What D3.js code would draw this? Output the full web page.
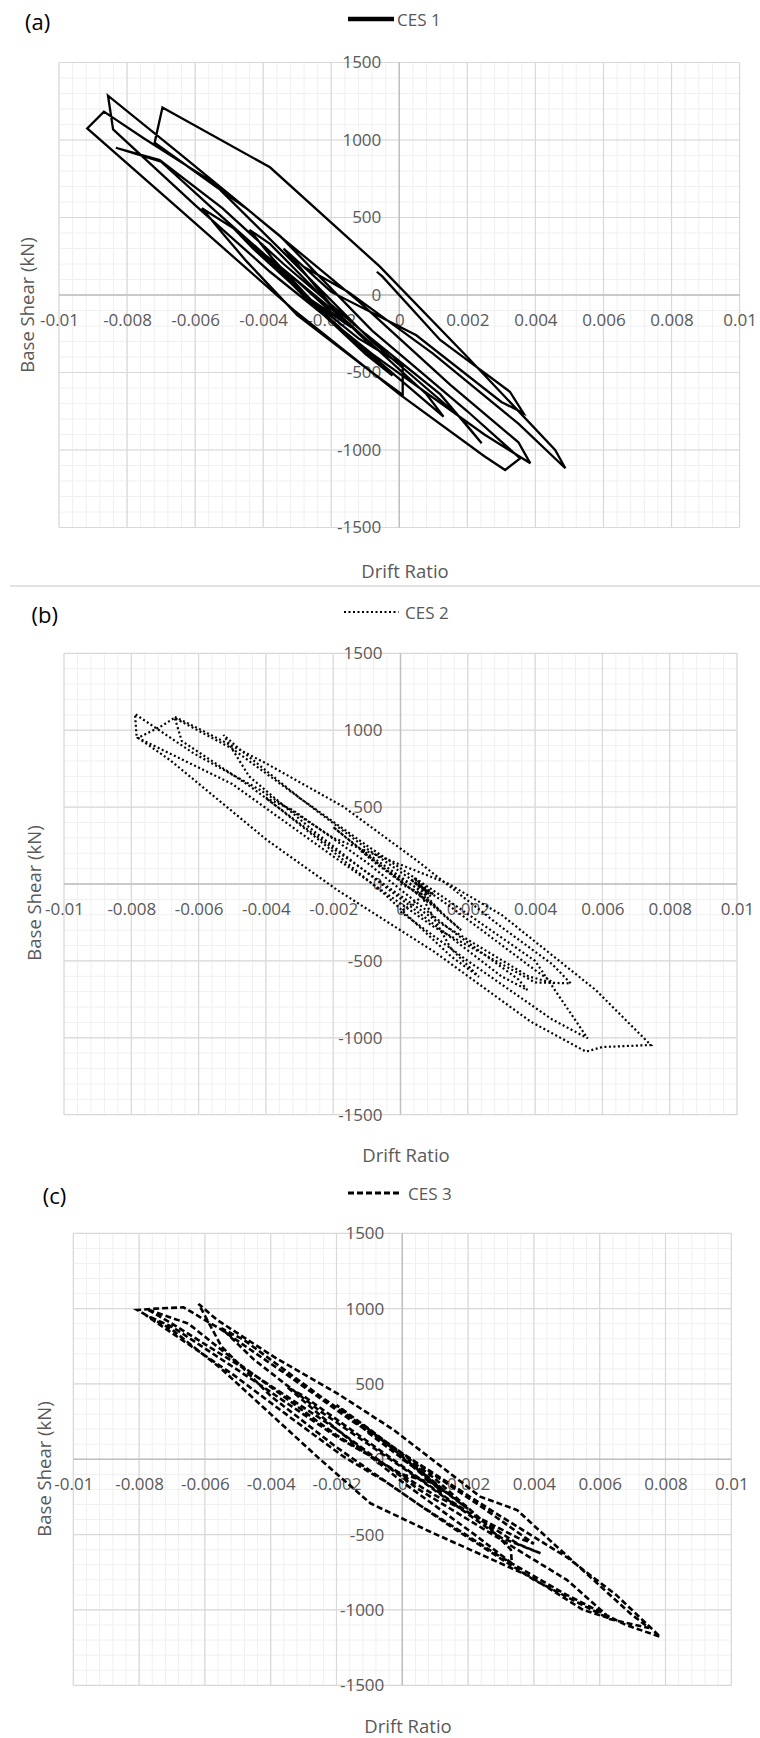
<!DOCTYPE html>
<html><head><meta charset="utf-8">
<script src="https://cdn.jsdelivr.net/npm/d3@7"></script>
<style>body{margin:0;background:#fff} svg{display:block}</style>
</head><body><svg id="chart" width="760" height="1738"></svg>
<script>
// ---------- data ----------
const xTicks = [-0.01,-0.008,-0.006,-0.004,-0.002,0,0.002,0.004,0.006,0.008,0.01];
const yTicks = [-1500,-1000,-500,0,500,1000,1500];
const seriesNames = ["CES 1","CES 2","CES 3"];
const panelLabels = ["(a)","(b)","(c)"];
const xTitle = "Drift Ratio";
const yTitle = "Base Shear (kN)";

const ces1Drift = [-0.00066,-0.0005,0.0012,0.002,0.00325,0.00365,0.003,0.0005,-0.002,-0.0034,-0.003,-0.0018,-0.0008,-0.0012,-0.0025,-0.0038,-0.0044,-0.0037,-0.0024,-0.0008,-0.0002,-0.001,-0.0027,-0.0042,-0.005,-0.0043,-0.003,-0.0012,0.0001,0.0001,-0.0008,-0.003,-0.0045,-0.0052,-0.0058,-0.0048,-0.0032,-0.0015,0.0013,0.0008,-0.0015,-0.0036,-0.0042,-0.003,-0.002,-0.0014,-0.0026,-0.0039,-0.0055,-0.007,-0.00833,-0.00704,-0.0052,-0.0034,-0.001,0.0012,0.00242,0.0018,-0.0008,-0.0032,-0.0055,-0.0075,-0.00868,-0.00917,-0.0065,-0.0031,0.0,0.0025,0.00311,0.00355,0.002,-0.0008,-0.0035,-0.0065,-0.00856,-0.00841,-0.006,-0.0038,-0.0008,0.0025,0.00385,0.0035,0.0015,-0.0012,-0.0045,-0.00719,-0.00696,-0.0038,-0.00057,0.002,0.00458,0.00488,0.0035,0.001,-0.0015,-0.0028];
const ces1Shear = [150,120,-290,-420,-624,-763,-690,-260,20,300,200,-120,-330,-250,40,330,420,230,-80,-400,-520,-380,-30,300,460,300,40,-280,-452,-645,-500,-130,220,400,560,420,80,-260,-785,-640,-180,200,300,90,-110,-210,-30,250,560,860,950,871,560,200,-250,-640,-957,-790,-300,230,730,1010,1183,1075,560,-97,-640,-1040,-1129,-1054,-750,-230,380,920,1286,1069,580,150,-380,-900,-1086,-950,-580,-40,560,983,1209,824,183,-400,-1000,-1118,-830,-380,20,180];

const ces2Drift = [0,0.0006,0.0012,0.0006,-0.0006,-0.0012,-0.0004,0.001,0.0018,0.001,-0.001,-0.002,-0.0012,0.0005,0.0015,0.00233,0.0015,-0.0005,-0.0025,-0.004,-0.0032,-0.001,0.0015,0.0035,0.00377,0.003,0.0005,-0.0025,-0.0045,-0.00526,-0.0048,-0.003,-0.001,0.0015,0.004,0.00456,0.0038,0.001,-0.002,-0.0045,-0.0065,-0.00672,-0.006,-0.004,-0.0017,0.0005,0.003,0.0045,0.00506,0.004,0.001,-0.002,-0.005,-0.00784,-0.00789,-0.00615,-0.00417,-0.002,0.0014,0.003,0.0058,0.00709,0.00744,0.006,0.00551,0.00387,0.001,-0.00188,-0.00397,-0.00685,-0.0078,-0.0071,-0.00672,-0.005,-0.003,-0.001,0.0015,0.004,0.00556,0.0045,0.002,0.0,0.0008,0.0003,0.0009,0.0004,0.0010,0.0005];
const ces2Shear = [0,-60,-180,-40,110,220,80,-140,-300,-150,190,370,230,-30,-420,-603,-470,-60,300,560,480,140,-300,-620,-689,-600,-180,330,700,969,880,560,230,-150,-560,-646,-600,-230,230,640,930,1088,1010,785,503,150,-280,-520,-646,-640,-280,180,650,954,1105,850,611,300,4,-200,-689,-971,-1047,-1060,-1090,-895,-440,-39,286,806,950,1027,1080,880,560,250,-120,-500,-1003,-880,-500,-180,-60,30,-80,40,-70,0];

const ces3Drift = [0,0.0008,0.0014,0.0006,-0.0006,-0.0012,-0.0004,0.0012,0.002,0.001,-0.001,-0.002,-0.001,0.001,0.0025,0.0033,0.00333,0.0022,0,-0.002,-0.0035,-0.003,-0.001,0.0015,0.0035,0.0042,0.003,0.0005,-0.0025,-0.0045,-0.0055,-0.0048,-0.0025,0,0.0025,0.004,0.0035,0.001,-0.002,-0.005,-0.0065,-0.00776,-0.007,-0.0045,-0.002,0.0005,0.0035,0.005,0.00632,0.0055,0.00389,0.00085,-0.00097,-0.0025,-0.004,-0.0055,-0.007,-0.00806,-0.0075,-0.00665,-0.0055,-0.0035,-0.0015,0.001,0.003,0.005,0.0065,0.00784,0.0068,0.005,0.003,0.0005,-0.002,-0.004,-0.0055,-0.00619,-0.00563,-0.00391,-0.00198,-0.00026,0.00237,0.00349,0.0047,0.00693,0.0075,0.0063,0.004,0.0015,-0.0005,-0.00178,-0.0033,-0.00513,-0.00781,-0.007,-0.0045,-0.002,0,0.0008,0.0003,0.0012,0.0005];
const ces3Shear = [0,-120,-230,-100,120,230,90,-200,-330,-160,170,360,200,-130,-420,-600,-690,-500,-150,200,480,420,110,-280,-560,-624,-520,-130,320,660,870,790,420,40,-330,-560,-520,-240,160,640,900,996,900,560,200,-200,-600,-800,-1056,-1000,-779,-481,-292,0,300,600,860,991,1000,1009,860,560,250,-100,-380,-650,-900,-1178,-1100,-900,-650,-300,80,420,750,1031,925,681,438,195,-248,-337,-580,-1023,-1120,-1060,-800,-450,-150,17,261,560,958,880,520,150,-100,-150,-20,-220,-60];

const driftSeries = [ces1Drift, ces2Drift, ces3Drift];
const shearSeries = [ces1Shear, ces2Shear, ces3Shear];

// ---------- layout ----------
const panels = [
  {x0:59, x1:739.6, yTop:62.5, yBot:527.5, labX:25, labY:21, legX0:348, legX1:394, legY:19, legTX:397,
   dash:null, sw:2.3, legSw:4.5, xtX:405, xtY:570, ytX:26, ytY:305},
  {x0:64, x1:737, yTop:653.3, yBot:1114.7, labX:31.5, labY:614, legX0:344, legX1:398.5, legY:612, legTX:405,
   dash:"2,2.5", sw:2.2, legSw:2.2, xtX:406, xtY:1154, ytX:33, ytY:893},
  {x0:73.3, x1:731.3, yTop:1233.3, yBot:1685.3, labX:42.7, labY:1195, legX0:348, legX1:402, legY:1193, legTX:408,
   dash:"6,3", sw:2.6, legSw:3, xtX:408, xtY:1725, ytX:43, ytY:1469}
];

const FONT = "'Open Sans', 'DejaVu Sans', sans-serif";
const GRAY = "#595959";
const svg = d3.select("#chart");
svg.append("rect").attr("width",760).attr("height",1738).attr("fill","#fff");

// separator between (a) and (b)
svg.append("line").attr("x1",10).attr("x2",760).attr("y1",586).attr("y2",586)
  .attr("stroke","#d9d9d9").attr("stroke-width",1.5);

const xMinor = d3.range(-0.01, 0.01 + 1e-9, 0.0004);
const yMinor = d3.range(-1500, 1500 + 1e-6, 100);

panels.forEach((p, i) => {
  const x = d3.scaleLinear().domain([-0.01, 0.01]).range([p.x0, p.x1]);
  const y = d3.scaleLinear().domain([-1500, 1500]).range([p.yBot, p.yTop]);
  const g = svg.append("g");

  // minor grid
  g.append("g").selectAll("line").data(xMinor).join("line")
    .attr("x1", d => x(d)).attr("x2", d => x(d)).attr("y1", p.yTop).attr("y2", p.yBot)
    .attr("stroke", "#f0f0f0").attr("stroke-width", 1);
  g.append("g").selectAll("line").data(yMinor).join("line")
    .attr("y1", d => y(d)).attr("y2", d => y(d)).attr("x1", p.x0).attr("x2", p.x1)
    .attr("stroke", "#f0f0f0").attr("stroke-width", 1);
  // major grid
  g.append("g").selectAll("line").data(xTicks).join("line")
    .attr("x1", d => x(d)).attr("x2", d => x(d)).attr("y1", p.yTop).attr("y2", p.yBot)
    .attr("stroke", "#d9d9d9").attr("stroke-width", 1.2);
  g.append("g").selectAll("line").data(yTicks).join("line")
    .attr("y1", d => y(d)).attr("y2", d => y(d)).attr("x1", p.x0).attr("x2", p.x1)
    .attr("stroke", "#d9d9d9").attr("stroke-width", 1.2);
  // axis lines
  g.append("line").attr("x1", x(0)).attr("x2", x(0)).attr("y1", p.yTop).attr("y2", p.yBot)
    .attr("stroke", "#bfbfbf").attr("stroke-width", 1.4);
  g.append("line").attr("y1", y(0)).attr("y2", y(0)).attr("x1", p.x0).attr("x2", p.x1)
    .attr("stroke", "#bfbfbf").attr("stroke-width", 1.4);

  // tick labels via d3 axes
  const ya = g.append("g").attr("transform", `translate(${x(0)},0)`)
    .call(d3.axisLeft(y).tickValues(yTicks).tickSize(0).tickPadding(18).tickFormat(d => String(d)));
  const xa = g.append("g").attr("transform", `translate(0,${y(0)})`)
    .call(d3.axisBottom(x).tickValues(xTicks).tickSize(0).tickPadding(19).tickFormat(d => String(+d.toFixed(3))));
  [ya, xa].forEach(a => {
    a.select(".domain").remove();
    a.attr("font-family", FONT).attr("font-size", 17);
    a.selectAll("text").attr("fill", GRAY);
  });

  // axis titles
  g.append("text").attr("x", p.xtX).attr("y", p.xtY).attr("text-anchor", "middle")
    .attr("dominant-baseline", "central").attr("font-family", FONT).attr("font-size", 18.5)
    .attr("fill", GRAY).text(xTitle);
  g.append("text").attr("transform", `translate(${p.ytX},${p.ytY}) rotate(-90)`)
    .attr("text-anchor", "middle").attr("dominant-baseline", "central")
    .attr("font-family", FONT).attr("font-size", 18.5).attr("fill", GRAY).text(yTitle);

  // panel label
  g.append("text").attr("x", p.labX).attr("y", p.labY).attr("dominant-baseline", "central")
    .attr("font-family", FONT).attr("font-size", 22).attr("fill", "#000").text(panelLabels[i]);

  // legend
  g.append("line").attr("x1", p.legX0).attr("x2", p.legX1).attr("y1", p.legY).attr("y2", p.legY)
    .attr("stroke", "#000").attr("stroke-width", p.legSw)
    .attr("stroke-dasharray", p.dash);
  g.append("text").attr("x", p.legTX).attr("y", p.legY).attr("dominant-baseline", "central")
    .attr("font-family", FONT).attr("font-size", 17).attr("fill", GRAY).text(seriesNames[i]);

  // data line
  const dr = driftSeries[i], sh = shearSeries[i];
  const line = d3.line().x(k => x(dr[k])).y(k => y(sh[k]));
  g.append("path").attr("d", line(d3.range(dr.length)))
    .attr("fill", "none").attr("stroke", "#000").attr("stroke-width", p.sw)
    .attr("stroke-linejoin", "miter").attr("stroke-dasharray", p.dash);
});
</script>
</body></html>
